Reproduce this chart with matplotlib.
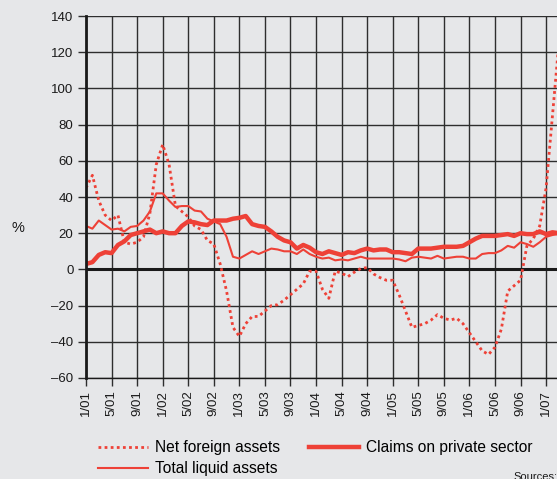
import matplotlib
matplotlib.use('Agg')
import matplotlib.pyplot as plt
import numpy as np

plt.rcParams['font.family'] = ['Liberation Sans', 'DejaVu Sans']

# months since 1/01
months = np.arange(0, 75)

net_foreign = [45, 52, 38, 30, 27, 30, 15, 14, 15, 18,
               31, 58, 69, 58, 35, 32, 29, 24, 22, 16,
               14, 3, -12, -32, -37, -30, -26, -26, -23, -20,
               -19.5, -17, -14, -11, -8, -1, -1, -11, -16, -1,
               -2, -4, -1.5, 0.5, 1, -2.5, -4.5, -6, -6, -14,
               -23, -32, -31, -30, -28, -25, -27, -28, -27, -30,
               -35, -40, -45, -47, -43, -33, -12, -9, -6, 13,
               17, 24, 45, 85, 125]

claims_private = [3, 4, 8, 9.5, 9, 13.5, 15.5, 19, 20, 21,
                  22, 20, 21, 20, 20, 24, 26.5, 26, 25, 24.5,
                  27, 27, 27, 28, 28.5, 29.5, 25, 24, 23.5, 21,
                  18, 16, 15, 11.5, 13.5, 12, 9.5, 8.5, 10, 9,
                  8, 9.5, 9, 10.5, 11.5, 10.5, 11, 11, 9.5, 9.5,
                  9, 8.5, 11.5, 11.5, 11.5, 12, 12.5, 12.5, 12.5, 13,
                  15, 17, 18.5, 18.5, 18.5, 19, 19.5, 18.5, 20, 19.5,
                  19.5, 21, 19.5, 20.5, 20]

total_liquid = [24, 22.5, 27, 24.5, 22, 22.5, 21, 23.5, 24, 27,
                32, 42, 42, 38, 34.5, 35, 35, 32.5, 32, 28,
                26.5, 25, 18, 7, 6, 8, 10, 8.5, 10, 11.5,
                11, 10, 10, 8.5, 11, 8.5, 7, 6, 6.5, 5,
                5.5, 5, 6, 7, 6, 6, 6, 6, 6, 5.5,
                4.5, 6.5, 7, 6.5, 6, 7.5, 6, 6.5, 7, 7,
                6, 6, 8.5, 9, 9, 10.5, 13, 12, 15, 14,
                12.5, 15, 18, 19, 19.5]

tick_labels = ['1/01', '5/01', '9/01', '1/02', '5/02', '9/02', '1/03', '5/03', '9/03',
               '1/04', '5/04', '9/04', '1/05', '5/05', '9/05', '1/06', '5/06', '9/06', '1/07']
y_ticks = [-60, -40, -20, 0, 20, 40, 60, 80, 100, 120, 140]

red = '#ee4137'
bg = '#e6e7e9'

fig = plt.figure(figsize=(5.57, 4.79), dpi=100, facecolor=bg)
ax = fig.add_axes([86 / 557, 1 - 378 / 479, 1 - 86 / 557, (378 - 16) / 479])
ax.set_facecolor(bg)

l1, = ax.plot(months, net_foreign, color=red, lw=2.0, linestyle=(0, (1, 1.2)),
              label='Net foreign assets')
l2, = ax.plot(months, total_liquid, color=red, lw=1.5, label='Total liquid assets')
l3, = ax.plot(months, claims_private, color=red, lw=3.2, label='Claims on private sector')

ax.set_xlim(0, (557 - 86) / 6.39)
ax.set_ylim(-60, 140)
ax.set_xticks(np.arange(0, 73, 4))
ax.set_xticklabels(tick_labels, rotation=90, fontsize=9.5)
ax.set_yticks(y_ticks)
ax.set_yticklabels([str(v).replace('-', '\u2013') for v in y_ticks], fontsize=9.5)

ax.grid(True, color='#2e2e2e', lw=1.0)
ax.set_axisbelow(True)
ax.axhline(0, color='#1a1a1a', lw=2.2, zorder=1.5)

for s in ['top', 'right']:
    ax.spines[s].set_visible(False)
ax.spines['left'].set_linewidth(2)
ax.spines['left'].set_color('#1a1a1a')
ax.spines['bottom'].set_linewidth(1)
ax.spines['bottom'].set_color('#1a1a1a')
ax.tick_params(axis='both', length=6, width=1, color='#2e2e2e', labelcolor='#1a1a1a', pad=3)

fig.text(18 / 557, 1 - 228 / 479, '%', fontsize=10.5, color='#1a1a1a', ha='center', va='center')

fig.legend(handles=[l1, l2, l3], ncol=2, loc='upper left',
           bbox_to_anchor=(98 / 557, 1 - 440 / 479), frameon=False, fontsize=11.2,
           handlelength=3.2, handletextpad=0.45, columnspacing=1.9, labelspacing=0.4,
           borderpad=0, borderaxespad=0)

fig.text(513 / 557, 1 - 472 / 479, 'Sources:', fontsize=8, color='#1a1a1a', va='top')

fig.savefig('out.png', dpi=100, facecolor=bg)
